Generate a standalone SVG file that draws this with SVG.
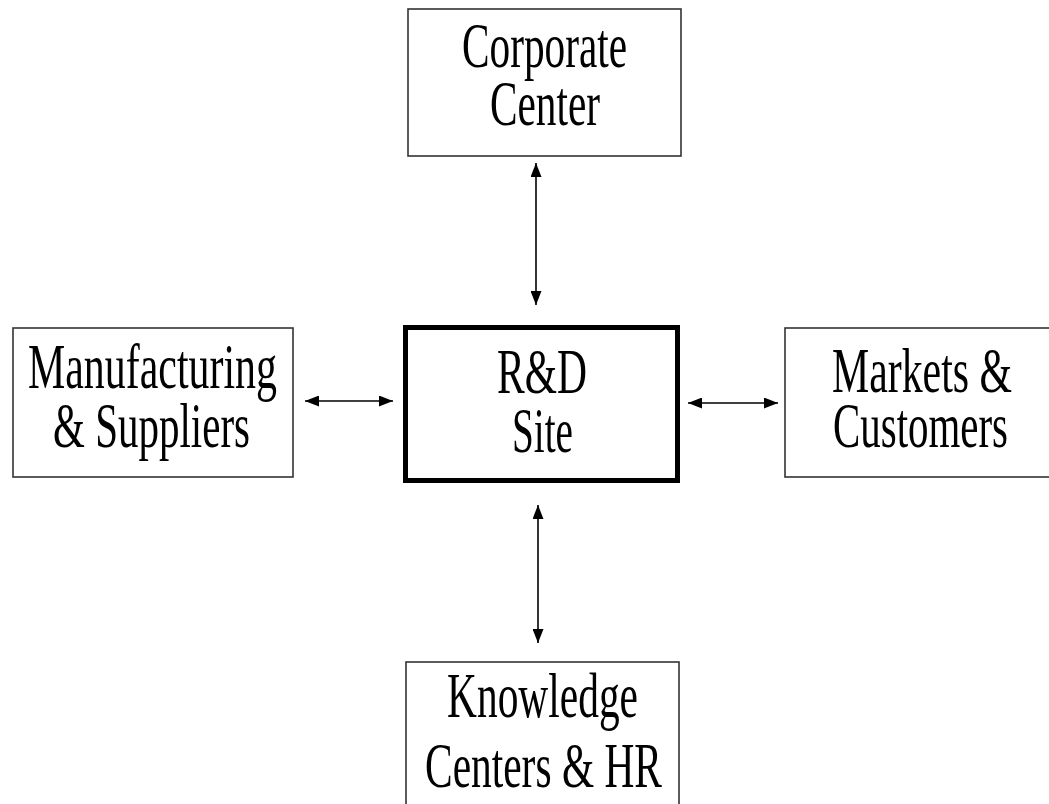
<svg xmlns="http://www.w3.org/2000/svg" width="1049" height="804" viewBox="0 0 1049 804">
<style>
.box{fill:#fff;stroke:#333;stroke-width:1.6}
.main{fill:#fff;stroke:#000;stroke-width:5}
.t{font-family:"Liberation Serif","Times New Roman",serif;font-size:63px;fill:#000}
.c{stroke:#000;stroke-width:1.6;fill:none}
</style>
<defs>
<marker id="ah" viewBox="0 0 14 11" refX="14" refY="5.5" markerWidth="14" markerHeight="11" markerUnits="userSpaceOnUse" orient="auto-start-reverse">
<path d="M0,0 L14,5.5 L0,11 z" fill="#000"/>
</marker>
</defs>
<rect width="1049" height="804" fill="#fff"/>
<g id="connectors">
<line class="c" x1="536" y1="163" x2="536" y2="305" marker-start="url(#ah)" marker-end="url(#ah)"/>
<line class="c" x1="538" y1="505" x2="538" y2="643" marker-start="url(#ah)" marker-end="url(#ah)"/>
<line class="c" x1="305" y1="401" x2="393" y2="401" marker-start="url(#ah)" marker-end="url(#ah)"/>
<line class="c" x1="688" y1="403" x2="778" y2="403" marker-start="url(#ah)" marker-end="url(#ah)"/>
</g>
<g id="corporate">
<rect class="box" x="408" y="9" width="273" height="147"/>
<text class="t" x="462" y="67" textLength="165" lengthAdjust="spacingAndGlyphs">Corporate</text>
<text class="t" x="490" y="125" textLength="110" lengthAdjust="spacingAndGlyphs">Center</text>
</g>
<g id="manufacturing">
<rect class="box" x="13" y="328" width="280" height="149"/>
<text class="t" x="28" y="388" textLength="249" lengthAdjust="spacingAndGlyphs">Manufacturing</text>
<text class="t" x="53" y="447" textLength="197" lengthAdjust="spacingAndGlyphs">&amp; Suppliers</text>
</g>
<g id="rd">
<rect class="main" x="405.5" y="327.5" width="272" height="153"/>
<text class="t" x="497" y="393" textLength="90" lengthAdjust="spacingAndGlyphs">R&amp;D</text>
<text class="t" x="512" y="452" textLength="61" lengthAdjust="spacingAndGlyphs">Site</text>
</g>
<g id="markets">
<rect class="box" x="785" y="328" width="280" height="149"/>
<text class="t" x="832" y="392" textLength="180" lengthAdjust="spacingAndGlyphs">Markets &amp;</text>
<text class="t" x="833" y="447" textLength="175" lengthAdjust="spacingAndGlyphs">Customers</text>
</g>
<g id="knowledge">
<rect class="box" x="406" y="662" width="273" height="160"/>
<text class="t" x="447" y="717" textLength="191" lengthAdjust="spacingAndGlyphs">Knowledge</text>
<text class="t" x="425" y="787" textLength="237" lengthAdjust="spacingAndGlyphs">Centers &amp; HR</text>
</g>
</svg>
